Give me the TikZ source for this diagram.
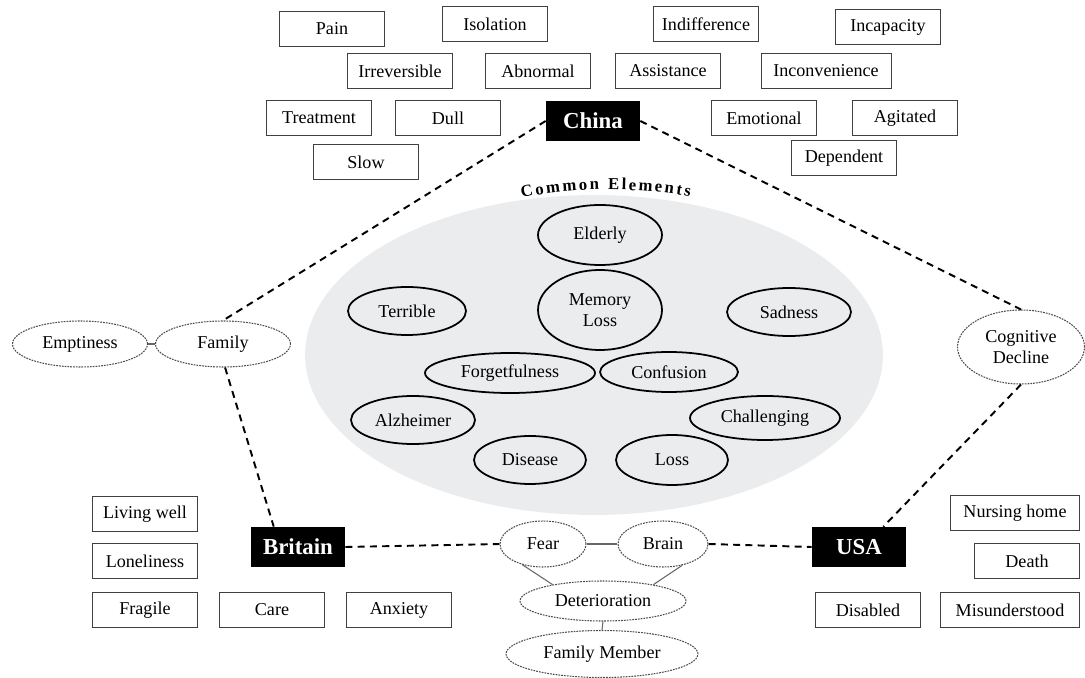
\documentclass[tikz,border=0pt]{standalone}
\usepackage{fontspec}
\setmainfont{Liberation Serif}
\usetikzlibrary{shapes.geometric,decorations.text}

\definecolor{bggray}{RGB}{235,236,238}

\begin{document}
\begin{tikzpicture}[
    x=0.02cm, y=-0.02cm,
    word/.style={rectangle, draw=black!75, line width=0.5pt, minimum width=2.1cm, minimum height=0.7cm, inner sep=1pt, font=\fontsize{10.3}{12}\selectfont},
    country/.style={rectangle, fill=black, text=white, minimum width=1.88cm, minimum height=0.8cm, inner sep=1pt, font=\fontsize{13}{15}\selectfont\bfseries},
    elem/.style={ellipse, draw, line width=1pt, inner sep=0pt, align=center, font=\fontsize{10.3}{12}\selectfont},
    outer/.style={ellipse, draw=black!70, line width=0.6pt, dash pattern=on 1pt off 0.6pt, inner sep=0pt, align=center, font=\fontsize{10.3}{12}\selectfont},
    link/.style={line width=1.1pt, dash pattern=on 4pt off 3pt},
    tie/.style={draw=black!60, line width=0.6pt}
]
    \useasboundingbox (0,0) rectangle (1085,678);

    % Common ground
    \node[ellipse, fill=bggray, minimum width=11.56cm, minimum height=6.4cm] (common) at (594,355) {};
    \path[decorate, decoration={text along path, text align={fit to path},
        text={|\fontsize{9.5}{11}\selectfont\bfseries|Common Elements}}]
        (522,198) .. controls (570,187) and (640,187) .. (690,197);

    % Countries
    \node[country] (china) at (593,121) {China};
    \node[country] (britain) at (298,547) {Britain};
    \node[country] (usa) at (859,547) {USA};

    % China words
    \node[word] (pain) at (332,29) {Pain};
    \node[word] (isolation) at (495,24) {Isolation};
    \node[word] (indifference) at (706,24) {Indifference};
    \node[word] (incapacity) at (888,27) {Incapacity};
    \node[word] (irreversible) at (400,71) {Irreversible};
    \node[word] (abnormal) at (538,71) {Abnormal};
    \node[word] (assistance) at (668,71) {Assistance};
    \node[word, minimum width=2.6cm] (inconvenience) at (826,71) {Inconvenience};
    \node[word] (treatment) at (319,118) {Treatment};
    \node[word] (dull) at (448,118) {Dull};
    \node[word] (emotional) at (764,118) {Emotional};
    \node[word] (agitated) at (905,118) {Agitated};
    \node[word] (slow) at (366,162) {Slow};
    \node[word] (dependent) at (844,158) {Dependent};

    % Britain words
    \node[word] (livingwell) at (145,514) {Living well};
    \node[word] (loneliness) at (145,561) {Loneliness};
    \node[word] (fragile) at (145,610) {Fragile};
    \node[word] (care) at (272,610) {Care};
    \node[word] (anxiety) at (399,610) {Anxiety};

    % USA words
    \node[word, minimum width=2.58cm] (nursing) at (1015,513) {Nursing home};
    \node[word] (death) at (1027,561) {Death};
    \node[word] (disabled) at (868,610) {Disabled};
    \node[word, minimum width=2.78cm] (misunderstood) at (1010,610) {Misunderstood};

    % Common elements
    \node[elem, minimum width=2.48cm, minimum height=1.2cm] (elderly) at (600,235) {Elderly};
    \node[elem, minimum width=2.48cm, minimum height=1.6cm] (memory) at (600,310) {Memory\\Loss};
    \node[elem, minimum width=2.36cm, minimum height=0.96cm] (terrible) at (407,311) {Terrible};
    \node[elem, minimum width=2.48cm, minimum height=0.96cm] (sadness) at (789,312) {Sadness};
    \node[elem, minimum width=3.4cm, minimum height=0.8cm] (forget) at (510,373) {Forgetfulness};
    \node[elem, minimum width=2.76cm, minimum height=0.8cm] (confusion) at (669,372) {Confusion};
    \node[elem, minimum width=2.48cm, minimum height=0.96cm] (alzheimer) at (413,420) {Alzheimer};
    \node[elem, minimum width=3cm, minimum height=0.88cm] (challenging) at (765,418) {Challenging};
    \node[elem, minimum width=2.24cm, minimum height=0.96cm] (disease) at (530,460) {Disease};
    \node[elem, minimum width=2.24cm, minimum height=1cm] (loss) at (672,460) {Loss};

    % Shared pairs
    \node[outer, minimum width=2.7cm, minimum height=0.92cm] (emptiness) at (80,344) {Emptiness};
    \node[outer, minimum width=2.7cm, minimum height=0.92cm] (family) at (223,344) {Family};
    \node[outer, minimum width=2.54cm, minimum height=1.48cm] (cognitive) at (1021,347) {Cognitive\\Decline};
    \node[outer, minimum width=1.72cm, minimum height=0.92cm] (fear) at (543,544) {Fear};
    \node[outer, minimum width=1.8cm, minimum height=0.92cm] (brain) at (663,544) {Brain};
    \node[outer, minimum width=3.32cm, minimum height=0.8cm] (deterioration) at (603,601) {Deterioration};
    \node[outer, minimum width=3.84cm, minimum height=0.94cm] (member) at (602,654) {Family Member};

    % Dashed links
    \draw[link] (china.west) -- (family.north);
    \draw[link] (china.east) -- (cognitive.north);
    \draw[link] (family.275) -- (britain.140);
    \draw[link] (cognitive.south) -- (usa.40);
    \draw[link] (britain.east) -- (fear.west);
    \draw[link] (brain.east) -- (usa.west);

    % Thin ties
    \draw[tie] (emptiness.east) -- (family.west);
    \draw[tie] (fear.east) -- (brain.west);
    \draw[tie] (fear.225) -- (deterioration.162);
    \draw[tie] (brain.312) -- (deterioration.18);
    \draw[tie] (deterioration.south) -- (member.north);
\end{tikzpicture}
\end{document}
